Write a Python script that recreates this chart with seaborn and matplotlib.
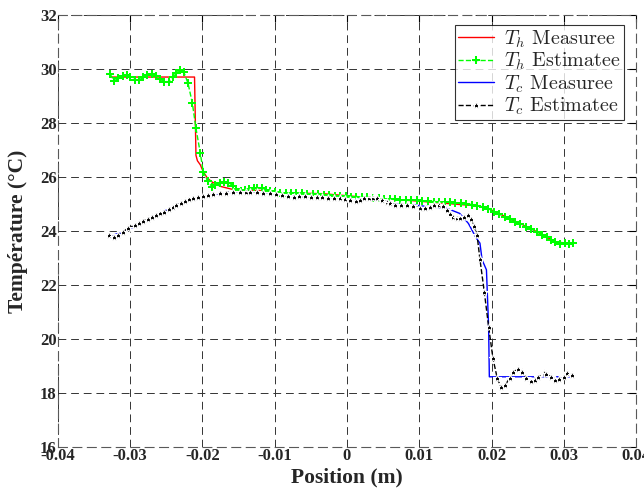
import numpy as np
import pandas as pd
import matplotlib
matplotlib.use('Agg')
import matplotlib.pyplot as plt
import seaborn as sns

# T_h measured
th_mes_x = [-0.0328, -0.0211, -0.0209, -0.0207, -0.0203, -0.0199, -0.0193, -0.0186,
            -0.0175, -0.0160, -0.0150, -0.0118, -0.0093, -0.0033, 0.0046, 0.0091,
            0.0184, 0.0198, 0.0210, 0.0258, 0.0288, 0.0313]
th_mes_y = [29.7, 29.7, 26.8, 26.6, 26.45, 26.2, 25.95, 25.8,
            25.65, 25.55, 25.52, 25.5, 25.42, 25.38, 25.2, 25.12,
            24.92, 24.8, 24.65, 24.04, 23.6, 23.52]

# T_h estimated
th_est_x = [-0.0328, -0.0322, -0.0317, -0.0310, -0.0305, -0.0300, -0.0294, -0.0288,
            -0.0282, -0.0277, -0.0270, -0.0264, -0.0259, -0.0253, -0.0247, -0.0241,
            -0.0236, -0.0231, -0.0226, -0.0220, -0.0214, -0.0209, -0.0203, -0.0199,
            -0.0193, -0.0187, -0.0182, -0.0176, -0.0170, -0.0164, -0.0158, -0.0153,
            -0.0147, -0.0141, -0.0135, -0.0129, -0.0124, -0.0118, -0.0112, -0.0106,
            -0.0100, -0.0093, -0.0085, -0.0078, -0.0070, -0.0062, -0.0055, -0.0047,
            -0.0040, -0.0032, -0.0025, -0.0017, -0.0010, -0.0002, 0.0006, 0.0013,
            0.0021, 0.0028, 0.0036, 0.0044, 0.0051, 0.0059, 0.0066, 0.0074,
            0.0082, 0.0089, 0.0097, 0.0104, 0.0112, 0.0120, 0.0127, 0.0135,
            0.0142, 0.0150, 0.0158, 0.0165, 0.0173, 0.0180, 0.0188, 0.0195,
            0.0203, 0.0210, 0.0218, 0.0225, 0.0233, 0.0240, 0.0248, 0.0255,
            0.0263, 0.0270, 0.0277, 0.0283, 0.0288, 0.0295, 0.0302, 0.0307, 0.0313]
th_est_y = [29.81, 29.56, 29.65, 29.74, 29.78, 29.69, 29.59, 29.59,
            29.69, 29.78, 29.81, 29.74, 29.62, 29.53, 29.53, 29.69,
            29.86, 29.96, 29.90, 29.47, 28.73, 27.80, 26.88, 26.20,
            25.85, 25.64, 25.70, 25.77, 25.80, 25.79, 25.68, 25.54,
            25.48, 25.50, 25.55, 25.58, 25.60, 25.58, 25.52, 25.47,
            25.44, 25.40, 25.40, 25.40, 25.40, 25.39, 25.38, 25.37,
            25.37, 25.35, 25.33, 25.31, 25.29, 25.28, 25.27, 25.26,
            25.25, 25.24, 25.22, 25.21, 25.19, 25.18, 25.17, 25.16,
            25.15, 25.14, 25.13, 25.12, 25.11, 25.09, 25.08, 25.07,
            25.06, 25.04, 25.02, 25.00, 24.98, 24.94, 24.88, 24.80,
            24.72, 24.63, 24.53, 24.43, 24.34, 24.25, 24.16, 24.07,
            23.97, 23.86, 23.76, 23.68, 23.60, 23.52, 23.55, 23.50, 23.54]

# T_c measured
tc_mes_x = [-0.0329, -0.0310, -0.0290, -0.0270, -0.0250, -0.0230, -0.0210, -0.0190,
            -0.0170, -0.0150, -0.0130, -0.0110, -0.0090, -0.0070, -0.0050, -0.0030,
            -0.0010, 0.0010, 0.0030, 0.0046, 0.0070, 0.0092, 0.0124, 0.0138,
            0.0156, 0.0168, 0.0179, 0.0184, 0.0187, 0.0193, 0.0196, 0.0197, 0.0311]
tc_mes_y = [23.82, 23.95, 24.22, 24.50, 24.78, 25.03, 25.22, 25.34,
            25.41, 25.45, 25.45, 25.41, 25.34, 25.28, 25.27, 25.25,
            25.21, 25.15, 25.20, 25.15, 24.98, 24.96, 24.87, 24.84,
            24.65, 24.28, 23.73, 23.55, 22.93, 22.56, 20.46, 18.60, 18.60]

# T_c estimated
tc_est_x = [-0.0329, -0.0323, -0.0317, -0.0310, -0.0303, -0.0294, -0.0288, -0.0282,
            -0.0276, -0.0270, -0.0264, -0.0259, -0.0253, -0.0247, -0.0241, -0.0236,
            -0.0230, -0.0224, -0.0218, -0.0213, -0.0206, -0.0199, -0.0192, -0.0185,
            -0.0176, -0.0167, -0.0158, -0.0148, -0.0140, -0.0134, -0.0125, -0.0116,
            -0.0107, -0.0098, -0.0090, -0.0082, -0.0074, -0.0066, -0.0058, -0.0050,
            -0.0042, -0.0034, -0.0026, -0.0018, -0.0010, -0.0003, 0.0004, 0.0012,
            0.0018, 0.0023, 0.0030, 0.0036, 0.0041, 0.0048, 0.0055, 0.0060,
            0.0067, 0.0075, 0.0083, 0.0092, 0.0101, 0.0108, 0.0115, 0.0121,
            0.0127, 0.0133, 0.0138, 0.0143, 0.0147, 0.0152, 0.0156, 0.0162,
            0.0168, 0.0172, 0.0176, 0.0180, 0.0184, 0.0190, 0.0196, 0.0202,
            0.0208, 0.0213, 0.0219, 0.0225, 0.0230, 0.0236, 0.0242, 0.0248,
            0.0254, 0.0260, 0.0265, 0.0272, 0.0276, 0.0282, 0.0288, 0.0294,
            0.0300, 0.0305, 0.0311]
tc_est_y = [23.85, 23.77, 23.85, 23.97, 24.10, 24.22, 24.30, 24.38,
            24.46, 24.53, 24.59, 24.65, 24.72, 24.80, 24.88, 24.96,
            25.04, 25.11, 25.17, 25.21, 25.26, 25.30, 25.34, 25.37,
            25.40, 25.42, 25.44, 25.46, 25.46, 25.46, 25.44, 25.42,
            25.40, 25.36, 25.32, 25.29, 25.27, 25.28, 25.28, 25.27,
            25.27, 25.25, 25.23, 25.22, 25.21, 25.18, 25.15, 25.12,
            25.16, 25.21, 25.23, 25.22, 25.21, 25.15, 25.08, 25.03,
            24.98, 24.98, 24.97, 24.93, 24.84, 24.85, 24.90, 24.95,
            24.96, 24.92, 24.78, 24.62, 24.53, 24.48, 24.47, 24.53,
            24.59, 24.45, 24.20, 23.85, 22.95, 21.75, 20.46, 19.28,
            18.54, 18.23, 18.30, 18.54, 18.79, 18.88, 18.79, 18.57,
            18.44, 18.48, 18.60, 18.73, 18.70, 18.60, 18.48, 18.51,
            18.60, 18.73, 18.65]

x_ticks = [-0.04, -0.03, -0.02, -0.01, 0, 0.01, 0.02, 0.03, 0.04]
y_ticks = [16, 18, 20, 22, 24, 26, 28, 30, 32]

sns.set_style('white')
plt.rcParams['font.family'] = ['Liberation Serif', 'DejaVu Serif']
plt.rcParams['font.weight'] = 'bold'
plt.rcParams['mathtext.fontset'] = 'cm'
plt.rcParams['axes.unicode_minus'] = False

fig = plt.figure(figsize=(6.44, 4.91), dpi=100)
ax = fig.add_axes([0.090, 0.0896, 0.8976, 0.880])

sns.lineplot(x=th_mes_x, y=th_mes_y, ax=ax, color='red', lw=1.0,
             sort=False, estimator=None, label=r'$T_h$ Measuree')
sns.lineplot(x=th_est_x, y=th_est_y, ax=ax, color='#00ff00', lw=1.0,
             linestyle='--', marker='P', markersize=5.5, markeredgewidth=0,
             sort=False, estimator=None, label=r'$T_h$ Estimatee')
sns.lineplot(x=tc_mes_x, y=tc_mes_y, ax=ax, color='blue', lw=1.0,
             sort=False, estimator=None, label=r'$T_c$ Measuree')
sns.lineplot(x=tc_est_x, y=tc_est_y, ax=ax, color='black', lw=1.0,
             linestyle='--', marker='*', markersize=6, markeredgewidth=0.8,
             sort=False, estimator=None, label=r'$T_c$ Estimatee')

ax.set_xlim(-0.04, 0.04)
ax.set_ylim(16, 32)
ax.set_xticks(x_ticks)
ax.set_yticks(y_ticks)
ax.set_xticklabels(['%g' % t for t in x_ticks])
ax.set_yticklabels(['%g' % t for t in y_ticks])
ax.tick_params(direction='in', length=5, width=0.8, top=True, right=True,
               labelsize=12, pad=1, color='black')

ax.grid(True, color='0.2', linestyle=(0, (8, 5)), linewidth=0.7)
for side in ['top', 'right', 'left', 'bottom']:
    ax.spines[side].set_linestyle((0, (8, 5)))
    ax.spines[side].set_linewidth(0.8)
    ax.spines[side].set_color('0.35')

ax.set_xlabel('Position (m)', fontsize=15.5, fontweight='bold')
ax.set_ylabel('Température (°C)', fontsize=15.5, fontweight='bold')
ax.xaxis.set_label_coords(0.5, -0.048)
ax.yaxis.set_label_coords(-0.052, 0.5)

leg = ax.legend(loc='upper right', bbox_to_anchor=(0.99, 0.99),
                prop={'family': 'cmr10', 'size': 14.5, 'weight': 'normal'},
                frameon=True, fancybox=False, edgecolor='black',
                handlelength=1.8, handletextpad=0.5, borderpad=0.15,
                labelspacing=0.05, borderaxespad=0.3)
leg.get_frame().set_linewidth(0.8)

fig.savefig('out.png', dpi=100)
